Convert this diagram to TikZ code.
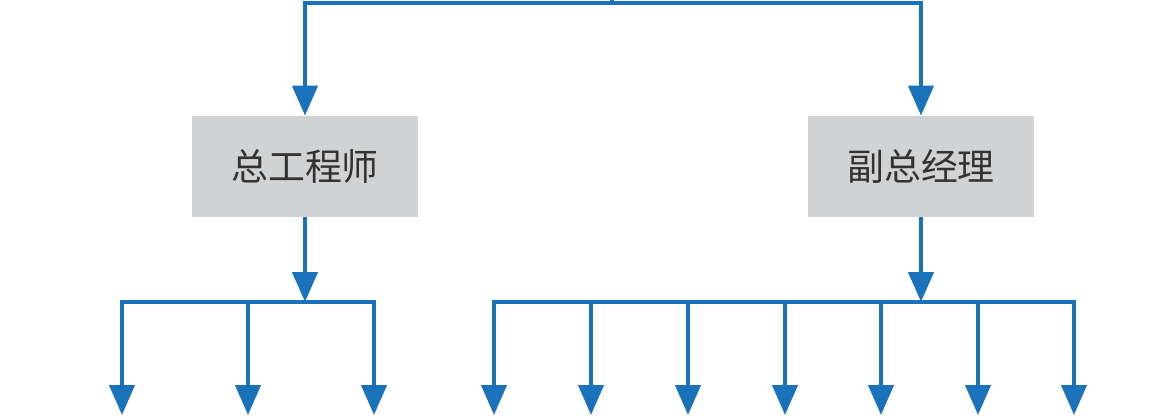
\documentclass[tikz,border=0pt]{standalone}
\usepackage{fontspec}
\newfontfamily\cjk{Noto Sans CJK SC}
\usetikzlibrary{arrows.meta}
\definecolor{lineblue}{RGB}{26,114,187}
\definecolor{boxgray}{RGB}{209,210,212}
\tikzset{
  post/.style={fill=boxgray, minimum width=4.52cm, minimum height=2.02cm, inner sep=0pt,
    font=\cjk\fontsize{21}{25}\selectfont, text=black!80},
  flow/.style={lineblue, line width=0.085cm, -{Triangle[width=0.5cm,length=0.6cm]}},
  bus/.style={lineblue, line width=0.085cm, line cap=rect}
}
\begin{document}
\begin{tikzpicture}[x=0.02cm,y=-0.02cm]
\useasboundingbox (0,0) rectangle (1161,416);
% two posts
\node[post] (chief) at (305,166.5) {总工程师};
\node[post] (deputy) at (921,166.5) {副总经理};
% top feed
\coordinate (top) at (612,0);
\coordinate (topbus) at (612,3);
\draw[bus] (top) -- (topbus);
\draw[flow] (topbus) -| (chief.north);
\draw[flow] (topbus) -| (deputy.north);
% left branch
\coordinate (lbus) at (305,302);
\draw[flow] (chief.south) -- (lbus);
\foreach \x [count=\i] in {122,248,374} {
  \coordinate (l\i) at (\x,302);
  \coordinate (l\i end) at (\x,415);
  \draw[flow] (l\i) -- (l\i end);
}
\draw[bus] (l1) -- (l3);
% right branch
\coordinate (rbus) at (921,302);
\draw[flow] (deputy.south) -- (rbus);
\foreach \x [count=\i] in {494,591,688,785,881,978,1074} {
  \coordinate (r\i) at (\x,302);
  \coordinate (r\i end) at (\x,415);
  \draw[flow] (r\i) -- (r\i end);
}
\draw[bus] (r1) -- (r7);
\end{tikzpicture}
\end{document}
